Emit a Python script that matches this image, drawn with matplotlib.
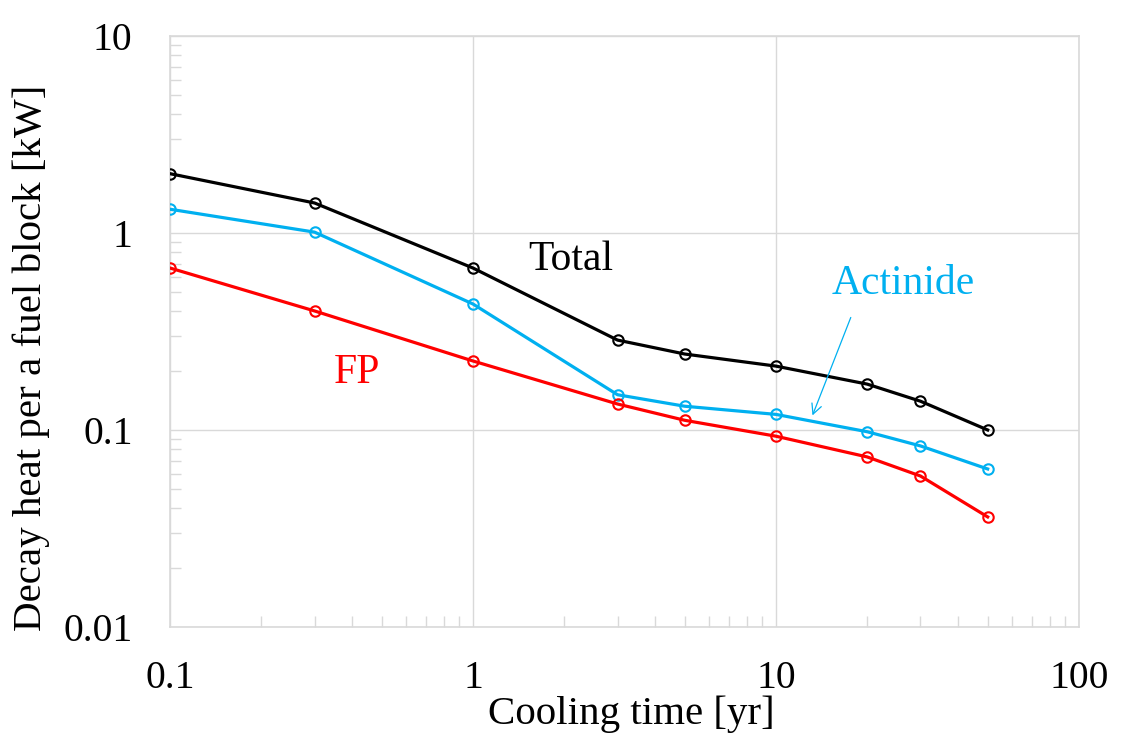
import numpy as np
import matplotlib.pyplot as plt
from matplotlib.ticker import LogLocator, FixedLocator, FixedFormatter, NullFormatter

# cooling time [yr]
cooling_time = [0.1, 0.3, 1, 3, 5, 10, 20, 30, 50]

# decay heat per fuel block [kW]
total = [2.0, 1.42, 0.664, 0.286, 0.243, 0.211, 0.171, 0.140, 0.100]
actinide = [1.32, 1.01, 0.436, 0.151, 0.132, 0.120, 0.098, 0.083, 0.0634]
fp = [0.664, 0.402, 0.224, 0.1355, 0.112, 0.093, 0.073, 0.0584, 0.0362]

x_ticks = [0.1, 1, 10, 100]
x_labels = ["0.1", "1", "10", "100"]
y_ticks = [0.01, 0.1, 1, 10]
y_labels = ["0.01", "0.1", "1", "10"]

plt.rcParams['font.family'] = ['Liberation Serif', 'DejaVu Serif']

fig = plt.figure(figsize=(11.29, 7.42), dpi=100)
ax = fig.add_axes([0.1506, 0.155, 0.805, 0.7965])

grid_col = '#d9d9d9'
series = [(total, 'black'), (actinide, '#00b0f0'), (fp, '#ff0000')]
for vals, col in series:
    ax.plot(cooling_time, vals, color=col, lw=2.3, marker='o', ms=7.5,
            mfc='none', mec=col, mew=1.5, zorder=3)

ax.set_xscale('log')
ax.set_yscale('log')
ax.set_xlim(0.1, 100)
ax.set_ylim(0.01, 10)

ax.xaxis.set_major_locator(FixedLocator(x_ticks))
ax.xaxis.set_major_formatter(FixedFormatter(x_labels))
ax.yaxis.set_major_locator(FixedLocator(y_ticks))
ax.yaxis.set_major_formatter(FixedFormatter(y_labels))
ax.xaxis.set_minor_locator(LogLocator(base=10, subs=np.arange(2, 10), numticks=20))
ax.yaxis.set_minor_locator(LogLocator(base=10, subs=np.arange(2, 10), numticks=20))
ax.xaxis.set_minor_formatter(NullFormatter())
ax.yaxis.set_minor_formatter(NullFormatter())

ax.grid(True, which='major', color=grid_col, lw=1.0)
for s in ax.spines.values():
    s.set_color(grid_col)
    s.set_linewidth(1.2)
ax.tick_params(which='major', length=0, labelsize=28.5)
ax.tick_params(axis='y', which='major', pad=27)
ax.tick_params(axis='x', which='major', pad=24)
ax.tick_params(which='minor', direction='in', length=8, width=1.0, color=grid_col)

ax.set_xlabel('Cooling time [yr]', fontsize=29.5)
ax.xaxis.set_label_coords(0.508, -0.116)
ax.set_ylabel('Decay heat per a fuel block [kW]', fontsize=29.5)
ax.yaxis.set_label_coords(-0.132, 0.456)

ax.text(2.1, 0.73, 'Total', color='black', fontsize=30, ha='center', va='center')
ax.text(26.3, 0.551, 'Actinide', color='#00b0f0', fontsize=30, ha='center', va='center')
ax.text(0.415, 0.195, 'FP', color='#ff0000', fontsize=30, ha='center', va='center')
ax.annotate('', xy=(13.1, 0.115), xytext=(17.8, 0.384),
            arrowprops=dict(arrowstyle='->', color='#00b0f0', lw=0.9,
                            mutation_scale=18))

fig.savefig('out.png', dpi=100)
